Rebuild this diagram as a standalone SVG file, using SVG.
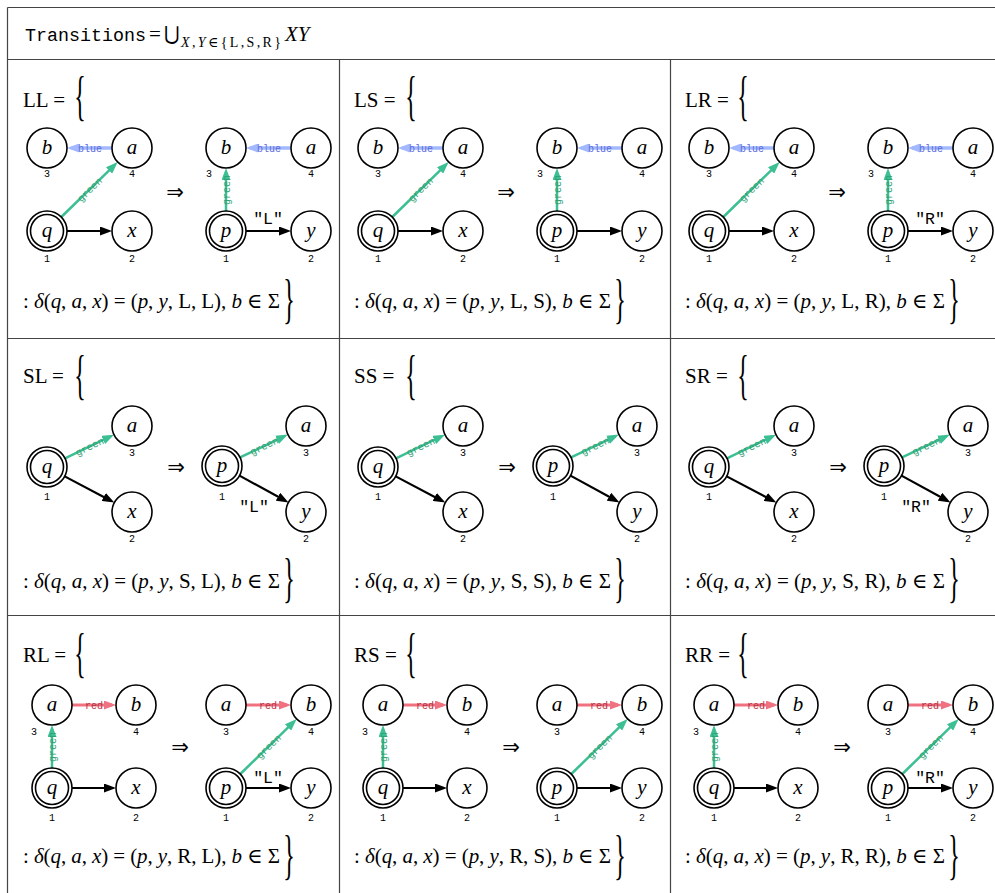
<svg xmlns="http://www.w3.org/2000/svg" width="995" height="893" viewBox="0 0 995 893">
<defs>
<style>
.grid line{stroke:#444;stroke-width:1.2}
.n circle{fill:#fff;stroke:#000;stroke-width:1.6}
.lbl{font-family:"Liberation Serif",serif;font-style:italic;font-size:21px;text-anchor:middle}
.num{font-family:"Liberation Mono",monospace;font-size:10px;text-anchor:middle}
.e{stroke:#000;stroke-width:2.2;fill:none;marker-end:url(#ak)}
.eg{stroke:#3cbf92;stroke-width:2.5;fill:none;marker-end:url(#ag)}
.eb{stroke:#a3b9ff;stroke-width:3.5;fill:none;marker-end:url(#ab)}
.er{stroke:#f07280;stroke-width:3;fill:none;marker-end:url(#ar)}
.tg,.tb,.tr{font-family:"Liberation Mono",monospace;font-size:10px;text-anchor:middle}
.tg{fill:#2f9e75}
.tb{fill:#5a6de0}
.tr{fill:#b53444}
.q{font-family:"Liberation Mono",monospace;font-size:16.5px;text-anchor:middle}
.title{font-family:"Liberation Serif",serif;font-size:21px}
.f{font-family:"Liberation Serif","DejaVu Serif",serif;font-size:21px}
.i{font-style:italic}
.br{font-family:"Liberation Serif",serif;font-size:24px;text-anchor:middle}
.arr{font-family:"DejaVu Sans",sans-serif;font-size:21px;text-anchor:middle}
</style>
<marker id="ak" viewBox="0 0 12 9" refX="8" refY="4.5" markerWidth="12" markerHeight="9" markerUnits="userSpaceOnUse" orient="auto"><path d="M0,0L12,4.5L0,9z" fill="#000"/></marker>
<marker id="ag" viewBox="0 0 12 9" refX="8" refY="4.5" markerWidth="12" markerHeight="9" markerUnits="userSpaceOnUse" orient="auto"><path d="M0,0L12,4.5L0,9z" fill="#3cbf92"/></marker>
<marker id="ab" viewBox="0 0 12 9" refX="8" refY="4.5" markerWidth="12" markerHeight="9" markerUnits="userSpaceOnUse" orient="auto"><path d="M0,0L12,4.5L0,9z" fill="#a3b9ff"/></marker>
<marker id="ar" viewBox="0 0 12 9" refX="8" refY="4.5" markerWidth="12" markerHeight="9" markerUnits="userSpaceOnUse" orient="auto"><path d="M0,0L12,4.5L0,9z" fill="#f07280"/></marker>
</defs>
<rect width="995" height="893" fill="#fff"/>
<g class="grid">
<line x1="7.5" y1="7.5" x2="995" y2="7.5"/>
<line x1="7.5" y1="7.5" x2="7.5" y2="893"/>
<line x1="7.5" y1="59.5" x2="995" y2="59.5"/>
<line x1="7.5" y1="338.5" x2="995" y2="338.5"/>
<line x1="7.5" y1="615.5" x2="995" y2="615.5"/>
<line x1="339.5" y1="59.5" x2="339.5" y2="893"/>
<line x1="670.5" y1="59.5" x2="670.5" y2="893"/>
</g>
<g id="header">
<text x="25" y="41" font-family="Liberation Mono,monospace" font-size="17.5" textLength="121" lengthAdjust="spacingAndGlyphs">Transitions</text>
<text x="149" y="41" font-family="Liberation Serif,serif" font-size="21">=</text>
<text x="164" y="40" font-family="DejaVu Serif,serif" font-size="19">⋃</text>
<text x="181" y="47" font-family="Liberation Serif,DejaVu Serif,serif" font-size="14" textLength="100"><tspan class="i">X</tspan>,<tspan class="i">Y</tspan>∈{L,S,R}</text>
<text x="285" y="41" font-family="Liberation Serif,serif" font-style="italic" font-size="21">XY</text>
</g>

<!-- ROW 1 -->
<g id="LL">
<text class="title" x="23" y="107">LL =</text>
<text class="br" transform="translate(80,100) scale(1,2.3)" y="6">{</text>
<g id="LL-connectors">
<line class="eb" x1="112" y1="148" x2="71" y2="148"/><text class="tb" x="90" y="151.5">blue</text>
<line class="eg" x1="61.3" y1="217" x2="114.8" y2="164.8"/><text class="tg" transform="translate(89.5,189.5) rotate(-44.3)" y="3.5">green</text>
<line class="e" x1="67" y1="231" x2="108" y2="231"/>
<line class="eb" x1="291" y1="148" x2="250" y2="148"/><text class="tb" x="269" y="151.5">blue</text>
<line class="eg" x1="226" y1="211" x2="226" y2="172"/><text class="tg" transform="translate(226,190) rotate(-90)" y="3.5">green</text>
<line class="e" x1="246" y1="231" x2="287" y2="231"/><text class="q" x="268" y="224">"L"</text>
</g>
<g id="LL-b" class="n"><circle cx="47" cy="148" r="20"/><text class="lbl" x="47" y="154">b</text><text class="num" x="47" y="177">3</text></g>
<g id="LL-a" class="n"><circle cx="132" cy="148" r="20"/><text class="lbl" x="132" y="154">a</text><text class="num" x="132" y="177">4</text></g>
<g id="LL-q" class="n"><circle cx="47" cy="231" r="20"/><circle cx="47" cy="231" r="16.5"/><text class="lbl" x="47" y="237">q</text><text class="num" x="47" y="262">1</text></g>
<g id="LL-x" class="n"><circle cx="132" cy="231" r="20"/><text class="lbl" x="132" y="237">x</text><text class="num" x="132" y="262">2</text></g>
<text class="arr" x="175" y="199">⇒</text>
<g id="LL-b2" class="n"><circle cx="226" cy="148" r="20"/><text class="lbl" x="226" y="154">b</text><text class="num" x="209" y="177">3</text></g>
<g id="LL-a2" class="n"><circle cx="311" cy="148" r="20"/><text class="lbl" x="311" y="154">a</text><text class="num" x="311" y="177">4</text></g>
<g id="LL-p" class="n"><circle cx="226" cy="231" r="20"/><circle cx="226" cy="231" r="16.5"/><text class="lbl" x="226" y="237">p</text><text class="num" x="226" y="262">1</text></g>
<g id="LL-y" class="n"><circle cx="311" cy="231" r="20"/><text class="lbl" x="311" y="237">y</text><text class="num" x="311" y="262">2</text></g>
<text class="f" x="23" y="308" textLength="257" lengthAdjust="spacing">: <tspan class="i">δ</tspan>(<tspan class="i">q</tspan>, <tspan class="i">a</tspan>, <tspan class="i">x</tspan>) = (<tspan class="i">p</tspan>, <tspan class="i">y</tspan>, L, L), <tspan class="i">b</tspan> ∈ Σ</text>
<text class="br" transform="translate(289,303) scale(1,2.3)" y="6">}</text>
</g>

<g id="LS" transform="translate(331,0)">
<text class="title" x="23" y="107">LS =</text>
<text class="br" transform="translate(80,100) scale(1,2.3)" y="6">{</text>
<g id="LS-connectors">
<line class="eb" x1="112" y1="148" x2="71" y2="148"/><text class="tb" x="90" y="151.5">blue</text>
<line class="eg" x1="61.3" y1="217" x2="114.8" y2="164.8"/><text class="tg" transform="translate(89.5,189.5) rotate(-44.3)" y="3.5">green</text>
<line class="e" x1="67" y1="231" x2="108" y2="231"/>
<line class="eb" x1="291" y1="148" x2="250" y2="148"/><text class="tb" x="269" y="151.5">blue</text>
<line class="eg" x1="226" y1="211" x2="226" y2="172"/><text class="tg" transform="translate(226,190) rotate(-90)" y="3.5">green</text>
<line class="e" x1="246" y1="231" x2="287" y2="231"/>
</g>
<g id="LS-b" class="n"><circle cx="47" cy="148" r="20"/><text class="lbl" x="47" y="154">b</text><text class="num" x="47" y="177">3</text></g>
<g id="LS-a" class="n"><circle cx="132" cy="148" r="20"/><text class="lbl" x="132" y="154">a</text><text class="num" x="132" y="177">4</text></g>
<g id="LS-q" class="n"><circle cx="47" cy="231" r="20"/><circle cx="47" cy="231" r="16.5"/><text class="lbl" x="47" y="237">q</text><text class="num" x="47" y="262">1</text></g>
<g id="LS-x" class="n"><circle cx="132" cy="231" r="20"/><text class="lbl" x="132" y="237">x</text><text class="num" x="132" y="262">2</text></g>
<text class="arr" x="175" y="199">⇒</text>
<g id="LS-b2" class="n"><circle cx="226" cy="148" r="20"/><text class="lbl" x="226" y="154">b</text><text class="num" x="209" y="177">3</text></g>
<g id="LS-a2" class="n"><circle cx="311" cy="148" r="20"/><text class="lbl" x="311" y="154">a</text><text class="num" x="311" y="177">4</text></g>
<g id="LS-p" class="n"><circle cx="226" cy="231" r="20"/><circle cx="226" cy="231" r="16.5"/><text class="lbl" x="226" y="237">p</text><text class="num" x="226" y="262">1</text></g>
<g id="LS-y" class="n"><circle cx="311" cy="231" r="20"/><text class="lbl" x="311" y="237">y</text><text class="num" x="311" y="262">2</text></g>
<text class="f" x="23" y="308" textLength="257" lengthAdjust="spacing">: <tspan class="i">δ</tspan>(<tspan class="i">q</tspan>, <tspan class="i">a</tspan>, <tspan class="i">x</tspan>) = (<tspan class="i">p</tspan>, <tspan class="i">y</tspan>, L, S), <tspan class="i">b</tspan> ∈ Σ</text>
<text class="br" transform="translate(289,303) scale(1,2.3)" y="6">}</text>
</g>

<g id="LR" transform="translate(662,0)">
<text class="title" x="23" y="107">LR =</text>
<text class="br" transform="translate(81,100) scale(1,2.3)" y="6">{</text>
<g id="LR-connectors">
<line class="eb" x1="112" y1="148" x2="71" y2="148"/><text class="tb" x="90" y="151.5">blue</text>
<line class="eg" x1="61.3" y1="217" x2="114.8" y2="164.8"/><text class="tg" transform="translate(89.5,189.5) rotate(-44.3)" y="3.5">green</text>
<line class="e" x1="67" y1="231" x2="108" y2="231"/>
<line class="eb" x1="291" y1="148" x2="250" y2="148"/><text class="tb" x="269" y="151.5">blue</text>
<line class="eg" x1="226" y1="211" x2="226" y2="172"/><text class="tg" transform="translate(226,190) rotate(-90)" y="3.5">green</text>
<line class="e" x1="246" y1="231" x2="287" y2="231"/><text class="q" x="268" y="224">"R"</text>
</g>
<g id="LR-b" class="n"><circle cx="47" cy="148" r="20"/><text class="lbl" x="47" y="154">b</text><text class="num" x="47" y="177">3</text></g>
<g id="LR-a" class="n"><circle cx="132" cy="148" r="20"/><text class="lbl" x="132" y="154">a</text><text class="num" x="132" y="177">4</text></g>
<g id="LR-q" class="n"><circle cx="47" cy="231" r="20"/><circle cx="47" cy="231" r="16.5"/><text class="lbl" x="47" y="237">q</text><text class="num" x="47" y="262">1</text></g>
<g id="LR-x" class="n"><circle cx="132" cy="231" r="20"/><text class="lbl" x="132" y="237">x</text><text class="num" x="132" y="262">2</text></g>
<text class="arr" x="175" y="199">⇒</text>
<g id="LR-b2" class="n"><circle cx="226" cy="148" r="20"/><text class="lbl" x="226" y="154">b</text><text class="num" x="209" y="177">3</text></g>
<g id="LR-a2" class="n"><circle cx="311" cy="148" r="20"/><text class="lbl" x="311" y="154">a</text><text class="num" x="311" y="177">4</text></g>
<g id="LR-p" class="n"><circle cx="226" cy="231" r="20"/><circle cx="226" cy="231" r="16.5"/><text class="lbl" x="226" y="237">p</text><text class="num" x="226" y="262">1</text></g>
<g id="LR-y" class="n"><circle cx="311" cy="231" r="20"/><text class="lbl" x="311" y="237">y</text><text class="num" x="311" y="262">2</text></g>
<text class="f" x="23" y="308" textLength="260" lengthAdjust="spacing">: <tspan class="i">δ</tspan>(<tspan class="i">q</tspan>, <tspan class="i">a</tspan>, <tspan class="i">x</tspan>) = (<tspan class="i">p</tspan>, <tspan class="i">y</tspan>, L, R), <tspan class="i">b</tspan> ∈ Σ</text>
<text class="br" transform="translate(292,303) scale(1,2.3)" y="6">}</text>
</g>

<!-- ROW 2 -->
<g id="SL">
<text class="title" x="23" y="383">SL =</text>
<text class="br" transform="translate(80,379) scale(1,2.3)" y="6">{</text>
<g id="SL-connectors">
<line class="eg" x1="65" y1="458.3" x2="110.4" y2="436.4"/><text class="tg" transform="translate(89.5,446.5) rotate(-25.8)" y="3.5">green</text>
<line class="e" x1="64.7" y1="476.4" x2="110.8" y2="500.7"/>
<line class="eg" x1="240.1" y1="457.4" x2="284.3" y2="436.3"/><text class="tg" transform="translate(264,446) rotate(-25.5)" y="3.5">green</text>
<line class="e" x1="239.5" y1="475.6" x2="285" y2="500.5"/><text class="q" x="254" y="512">"L"</text>
</g>
<g id="SL-q" class="n"><circle cx="47" cy="467" r="20"/><circle cx="47" cy="467" r="16.5"/><text class="lbl" x="47" y="473">q</text><text class="num" x="47" y="500">1</text></g>
<g id="SL-a" class="n"><circle cx="132" cy="426" r="20"/><text class="lbl" x="132" y="432">a</text><text class="num" x="132" y="456">3</text></g>
<g id="SL-x" class="n"><circle cx="132" cy="512" r="20"/><text class="lbl" x="132" y="518">x</text><text class="num" x="132" y="542">2</text></g>
<text class="arr" x="176" y="474">⇒</text>
<g id="SL-p" class="n"><circle cx="222" cy="466" r="20"/><circle cx="222" cy="466" r="16.5"/><text class="lbl" x="222" y="472">p</text><text class="num" x="222" y="500">1</text></g>
<g id="SL-a2" class="n"><circle cx="306" cy="426" r="20"/><text class="lbl" x="306" y="432">a</text><text class="num" x="306" y="456">3</text></g>
<g id="SL-y" class="n"><circle cx="306" cy="512" r="20"/><text class="lbl" x="306" y="518">y</text><text class="num" x="306" y="542">2</text></g>
<text class="f" x="23" y="588" textLength="257" lengthAdjust="spacing">: <tspan class="i">δ</tspan>(<tspan class="i">q</tspan>, <tspan class="i">a</tspan>, <tspan class="i">x</tspan>) = (<tspan class="i">p</tspan>, <tspan class="i">y</tspan>, S, L), <tspan class="i">b</tspan> ∈ Σ</text>
<text class="br" transform="translate(289,582) scale(1,2.3)" y="6">}</text>
</g>

<g id="SS" transform="translate(331,0)">
<text class="title" x="23" y="383">SS =</text>
<text class="br" transform="translate(80,379) scale(1,2.3)" y="6">{</text>
<g id="SS-connectors">
<line class="eg" x1="65" y1="458.3" x2="110.4" y2="436.4"/><text class="tg" transform="translate(89.5,446.5) rotate(-25.8)" y="3.5">green</text>
<line class="e" x1="64.7" y1="476.4" x2="110.8" y2="500.7"/>
<line class="eg" x1="240.1" y1="457.4" x2="284.3" y2="436.3"/><text class="tg" transform="translate(264,446) rotate(-25.5)" y="3.5">green</text>
<line class="e" x1="239.5" y1="475.6" x2="285" y2="500.5"/>
</g>
<g id="SS-q" class="n"><circle cx="47" cy="467" r="20"/><circle cx="47" cy="467" r="16.5"/><text class="lbl" x="47" y="473">q</text><text class="num" x="47" y="500">1</text></g>
<g id="SS-a" class="n"><circle cx="132" cy="426" r="20"/><text class="lbl" x="132" y="432">a</text><text class="num" x="132" y="456">3</text></g>
<g id="SS-x" class="n"><circle cx="132" cy="512" r="20"/><text class="lbl" x="132" y="518">x</text><text class="num" x="132" y="542">2</text></g>
<text class="arr" x="176" y="474">⇒</text>
<g id="SS-p" class="n"><circle cx="222" cy="466" r="20"/><circle cx="222" cy="466" r="16.5"/><text class="lbl" x="222" y="472">p</text><text class="num" x="222" y="500">1</text></g>
<g id="SS-a2" class="n"><circle cx="306" cy="426" r="20"/><text class="lbl" x="306" y="432">a</text><text class="num" x="306" y="456">3</text></g>
<g id="SS-y" class="n"><circle cx="306" cy="512" r="20"/><text class="lbl" x="306" y="518">y</text><text class="num" x="306" y="542">2</text></g>
<text class="f" x="23" y="588" textLength="257" lengthAdjust="spacing">: <tspan class="i">δ</tspan>(<tspan class="i">q</tspan>, <tspan class="i">a</tspan>, <tspan class="i">x</tspan>) = (<tspan class="i">p</tspan>, <tspan class="i">y</tspan>, S, S), <tspan class="i">b</tspan> ∈ Σ</text>
<text class="br" transform="translate(289,582) scale(1,2.3)" y="6">}</text>
</g>

<g id="SR" transform="translate(662,0)">
<text class="title" x="23" y="383">SR =</text>
<text class="br" transform="translate(81,379) scale(1,2.3)" y="6">{</text>
<g id="SR-connectors">
<line class="eg" x1="65" y1="458.3" x2="110.4" y2="436.4"/><text class="tg" transform="translate(89.5,446.5) rotate(-25.8)" y="3.5">green</text>
<line class="e" x1="64.7" y1="476.4" x2="110.8" y2="500.7"/>
<line class="eg" x1="240.1" y1="457.4" x2="284.3" y2="436.3"/><text class="tg" transform="translate(264,446) rotate(-25.5)" y="3.5">green</text>
<line class="e" x1="239.5" y1="475.6" x2="285" y2="500.5"/><text class="q" x="254" y="512">"R"</text>
</g>
<g id="SR-q" class="n"><circle cx="47" cy="467" r="20"/><circle cx="47" cy="467" r="16.5"/><text class="lbl" x="47" y="473">q</text><text class="num" x="47" y="500">1</text></g>
<g id="SR-a" class="n"><circle cx="132" cy="426" r="20"/><text class="lbl" x="132" y="432">a</text><text class="num" x="132" y="456">3</text></g>
<g id="SR-x" class="n"><circle cx="132" cy="512" r="20"/><text class="lbl" x="132" y="518">x</text><text class="num" x="132" y="542">2</text></g>
<text class="arr" x="176" y="474">⇒</text>
<g id="SR-p" class="n"><circle cx="222" cy="466" r="20"/><circle cx="222" cy="466" r="16.5"/><text class="lbl" x="222" y="472">p</text><text class="num" x="222" y="500">1</text></g>
<g id="SR-a2" class="n"><circle cx="306" cy="426" r="20"/><text class="lbl" x="306" y="432">a</text><text class="num" x="306" y="456">3</text></g>
<g id="SR-y" class="n"><circle cx="306" cy="512" r="20"/><text class="lbl" x="306" y="518">y</text><text class="num" x="306" y="542">2</text></g>
<text class="f" x="23" y="588" textLength="260" lengthAdjust="spacing">: <tspan class="i">δ</tspan>(<tspan class="i">q</tspan>, <tspan class="i">a</tspan>, <tspan class="i">x</tspan>) = (<tspan class="i">p</tspan>, <tspan class="i">y</tspan>, S, R), <tspan class="i">b</tspan> ∈ Σ</text>
<text class="br" transform="translate(292,582) scale(1,2.3)" y="6">}</text>
</g>

<!-- ROW 3 -->
<g id="RL">
<text class="title" x="23" y="662">RL =</text>
<text class="br" transform="translate(80,657) scale(1,2.3)" y="6">{</text>
<g id="RL-connectors">
<line class="er" x1="72" y1="705" x2="112" y2="705"/><text class="tr" x="94" y="708.5">red</text>
<line class="eg" x1="52" y1="768" x2="52" y2="729"/><text class="tg" transform="translate(52,747) rotate(-90)" y="3.5">green</text>
<line class="e" x1="72" y1="788" x2="112" y2="788"/>
<line class="er" x1="246" y1="705" x2="287" y2="705"/><text class="tr" x="268" y="708.5">red</text>
<line class="eg" x1="240.3" y1="774" x2="293.8" y2="721.8"/><text class="tg" transform="translate(268.5,746.5) rotate(-44.3)" y="3.5">green</text>
<line class="e" x1="246" y1="788" x2="287" y2="788"/><text class="q" x="268" y="783">"L"</text>
</g>
<g id="RL-a" class="n"><circle cx="52" cy="705" r="20"/><text class="lbl" x="52" y="711">a</text><text class="num" x="34" y="735">3</text></g>
<g id="RL-b" class="n"><circle cx="136" cy="705" r="20"/><text class="lbl" x="136" y="711">b</text><text class="num" x="136" y="735">4</text></g>
<g id="RL-q" class="n"><circle cx="52" cy="788" r="20"/><circle cx="52" cy="788" r="16.5"/><text class="lbl" x="52" y="794">q</text><text class="num" x="52" y="821">1</text></g>
<g id="RL-x" class="n"><circle cx="136" cy="788" r="20"/><text class="lbl" x="136" y="794">x</text><text class="num" x="136" y="821">2</text></g>
<text class="arr" x="180" y="754">⇒</text>
<g id="RL-a2" class="n"><circle cx="226" cy="705" r="20"/><text class="lbl" x="226" y="711">a</text><text class="num" x="226" y="735">3</text></g>
<g id="RL-b2" class="n"><circle cx="311" cy="705" r="20"/><text class="lbl" x="311" y="711">b</text><text class="num" x="311" y="735">4</text></g>
<g id="RL-p" class="n"><circle cx="226" cy="788" r="20"/><circle cx="226" cy="788" r="16.5"/><text class="lbl" x="226" y="794">p</text><text class="num" x="226" y="821">1</text></g>
<g id="RL-y" class="n"><circle cx="311" cy="788" r="20"/><text class="lbl" x="311" y="794">y</text><text class="num" x="311" y="821">2</text></g>
<text class="f" x="23" y="863" textLength="257" lengthAdjust="spacing">: <tspan class="i">δ</tspan>(<tspan class="i">q</tspan>, <tspan class="i">a</tspan>, <tspan class="i">x</tspan>) = (<tspan class="i">p</tspan>, <tspan class="i">y</tspan>, R, L), <tspan class="i">b</tspan> ∈ Σ</text>
<text class="br" transform="translate(289,859) scale(1,2.3)" y="6">}</text>
</g>

<g id="RS" transform="translate(331,0)">
<text class="title" x="23" y="662">RS =</text>
<text class="br" transform="translate(80,657) scale(1,2.3)" y="6">{</text>
<g id="RS-connectors">
<line class="er" x1="72" y1="705" x2="112" y2="705"/><text class="tr" x="94" y="708.5">red</text>
<line class="eg" x1="52" y1="768" x2="52" y2="729"/><text class="tg" transform="translate(52,747) rotate(-90)" y="3.5">green</text>
<line class="e" x1="72" y1="788" x2="112" y2="788"/>
<line class="er" x1="246" y1="705" x2="287" y2="705"/><text class="tr" x="268" y="708.5">red</text>
<line class="eg" x1="240.3" y1="774" x2="293.8" y2="721.8"/><text class="tg" transform="translate(268.5,746.5) rotate(-44.3)" y="3.5">green</text>
<line class="e" x1="246" y1="788" x2="287" y2="788"/>
</g>
<g id="RS-a" class="n"><circle cx="52" cy="705" r="20"/><text class="lbl" x="52" y="711">a</text><text class="num" x="34" y="735">3</text></g>
<g id="RS-b" class="n"><circle cx="136" cy="705" r="20"/><text class="lbl" x="136" y="711">b</text><text class="num" x="136" y="735">4</text></g>
<g id="RS-q" class="n"><circle cx="52" cy="788" r="20"/><circle cx="52" cy="788" r="16.5"/><text class="lbl" x="52" y="794">q</text><text class="num" x="52" y="821">1</text></g>
<g id="RS-x" class="n"><circle cx="136" cy="788" r="20"/><text class="lbl" x="136" y="794">x</text><text class="num" x="136" y="821">2</text></g>
<text class="arr" x="180" y="754">⇒</text>
<g id="RS-a2" class="n"><circle cx="226" cy="705" r="20"/><text class="lbl" x="226" y="711">a</text><text class="num" x="226" y="735">3</text></g>
<g id="RS-b2" class="n"><circle cx="311" cy="705" r="20"/><text class="lbl" x="311" y="711">b</text><text class="num" x="311" y="735">4</text></g>
<g id="RS-p" class="n"><circle cx="226" cy="788" r="20"/><circle cx="226" cy="788" r="16.5"/><text class="lbl" x="226" y="794">p</text><text class="num" x="226" y="821">1</text></g>
<g id="RS-y" class="n"><circle cx="311" cy="788" r="20"/><text class="lbl" x="311" y="794">y</text><text class="num" x="311" y="821">2</text></g>
<text class="f" x="23" y="863" textLength="257" lengthAdjust="spacing">: <tspan class="i">δ</tspan>(<tspan class="i">q</tspan>, <tspan class="i">a</tspan>, <tspan class="i">x</tspan>) = (<tspan class="i">p</tspan>, <tspan class="i">y</tspan>, R, S), <tspan class="i">b</tspan> ∈ Σ</text>
<text class="br" transform="translate(289,859) scale(1,2.3)" y="6">}</text>
</g>

<g id="RR" transform="translate(662,0)">
<text class="title" x="23" y="662">RR =</text>
<text class="br" transform="translate(81,657) scale(1,2.3)" y="6">{</text>
<g id="RR-connectors">
<line class="er" x1="72" y1="705" x2="112" y2="705"/><text class="tr" x="94" y="708.5">red</text>
<line class="eg" x1="52" y1="768" x2="52" y2="729"/><text class="tg" transform="translate(52,747) rotate(-90)" y="3.5">green</text>
<line class="e" x1="72" y1="788" x2="112" y2="788"/>
<line class="er" x1="246" y1="705" x2="287" y2="705"/><text class="tr" x="268" y="708.5">red</text>
<line class="eg" x1="240.3" y1="774" x2="293.8" y2="721.8"/><text class="tg" transform="translate(268.5,746.5) rotate(-44.3)" y="3.5">green</text>
<line class="e" x1="246" y1="788" x2="287" y2="788"/><text class="q" x="268" y="783">"R"</text>
</g>
<g id="RR-a" class="n"><circle cx="52" cy="705" r="20"/><text class="lbl" x="52" y="711">a</text><text class="num" x="34" y="735">3</text></g>
<g id="RR-b" class="n"><circle cx="136" cy="705" r="20"/><text class="lbl" x="136" y="711">b</text><text class="num" x="136" y="735">4</text></g>
<g id="RR-q" class="n"><circle cx="52" cy="788" r="20"/><circle cx="52" cy="788" r="16.5"/><text class="lbl" x="52" y="794">q</text><text class="num" x="52" y="821">1</text></g>
<g id="RR-x" class="n"><circle cx="136" cy="788" r="20"/><text class="lbl" x="136" y="794">x</text><text class="num" x="136" y="821">2</text></g>
<text class="arr" x="180" y="754">⇒</text>
<g id="RR-a2" class="n"><circle cx="226" cy="705" r="20"/><text class="lbl" x="226" y="711">a</text><text class="num" x="226" y="735">3</text></g>
<g id="RR-b2" class="n"><circle cx="311" cy="705" r="20"/><text class="lbl" x="311" y="711">b</text><text class="num" x="311" y="735">4</text></g>
<g id="RR-p" class="n"><circle cx="226" cy="788" r="20"/><circle cx="226" cy="788" r="16.5"/><text class="lbl" x="226" y="794">p</text><text class="num" x="226" y="821">1</text></g>
<g id="RR-y" class="n"><circle cx="311" cy="788" r="20"/><text class="lbl" x="311" y="794">y</text><text class="num" x="311" y="821">2</text></g>
<text class="f" x="23" y="863" textLength="260" lengthAdjust="spacing">: <tspan class="i">δ</tspan>(<tspan class="i">q</tspan>, <tspan class="i">a</tspan>, <tspan class="i">x</tspan>) = (<tspan class="i">p</tspan>, <tspan class="i">y</tspan>, R, R), <tspan class="i">b</tspan> ∈ Σ</text>
<text class="br" transform="translate(292,859) scale(1,2.3)" y="6">}</text>
</g>
</svg>
